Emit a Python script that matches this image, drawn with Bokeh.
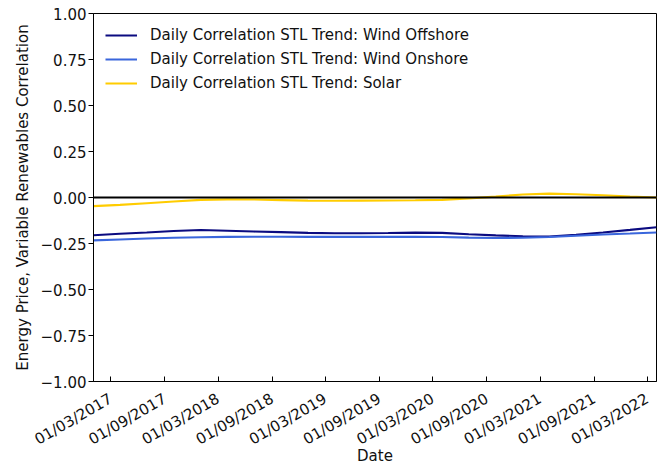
import pandas as pd
from math import pi
from bokeh.plotting import figure
from bokeh.models import Range1d, FixedTicker, Span, Legend, LegendItem
from bokeh.embed import file_html
from bokeh.resources import INLINE

# ---- data ----
dates = ["2017-01-01", "2017-04-01", "2017-07-01", "2017-10-01",
         "2018-01-01", "2018-04-01", "2018-07-01", "2018-10-01",
         "2019-01-01", "2019-04-01", "2019-07-01", "2019-10-01",
         "2020-01-01", "2020-04-01", "2020-07-01", "2020-10-01",
         "2021-01-01", "2021-04-01", "2021-07-01", "2021-10-01",
         "2022-01-01", "2022-04-01"]
wind_offshore = [-0.205, -0.197, -0.190, -0.182, -0.177, -0.181, -0.185, -0.188,
                 -0.192, -0.194, -0.194, -0.193, -0.191, -0.192, -0.200, -0.206,
                 -0.211, -0.212, -0.203, -0.190, -0.176, -0.162]
wind_onshore = [-0.233, -0.228, -0.223, -0.219, -0.216, -0.214, -0.213, -0.213,
                -0.214, -0.214, -0.214, -0.214, -0.214, -0.215, -0.218, -0.220,
                -0.219, -0.215, -0.208, -0.201, -0.196, -0.190]
solar = [-0.047, -0.040, -0.031, -0.022, -0.013, -0.010, -0.011, -0.014,
         -0.017, -0.018, -0.017, -0.016, -0.015, -0.013, -0.005, 0.005,
         0.016, 0.021, 0.018, 0.012, 0.005, 0.000]

series_names = ["Daily Correlation STL Trend: Wind Offshore",
                "Daily Correlation STL Trend: Wind Onshore",
                "Daily Correlation STL Trend: Solar"]
series_colors = ["#0b0b80", "#3a66dc", "#ffcc00"]

x_tick_dates = ["2017-03-01", "2017-09-01", "2018-03-01", "2018-09-01",
                "2019-03-01", "2019-09-01", "2020-03-01", "2020-09-01",
                "2021-03-01", "2021-09-01", "2022-03-01"]
x_tick_labels = ["01/03/2017", "01/09/2017", "01/03/2018", "01/09/2018",
                 "01/03/2019", "01/09/2019", "01/03/2020", "01/09/2020",
                 "01/03/2021", "01/09/2021", "01/03/2022"]
y_ticks = [-1.0, -0.75, -0.5, -0.25, 0.0, 0.25, 0.5, 0.75, 1.0]
y_tick_labels = ["\u22121.00", "\u22120.75", "\u22120.50", "\u22120.25",
                 "0.00", "0.25", "0.50", "0.75", "1.00"]

FONT = "DejaVu Sans"
FS = "15px"

x = pd.to_datetime(dates)
x_start = x[0]
x_end = x[-1]

p = figure(width=659, height=468, output_backend="svg", toolbar_location=None,
           x_axis_type="datetime",
           x_range=Range1d(x_start, x_end), y_range=Range1d(-1.0, 1.0),
           min_border_left=93, min_border_right=3, min_border_top=13,
           min_border_bottom=85)
p.grid.visible = False
p.outline_line_color = "black"
p.outline_line_width = 1
p.background_fill_color = "white"
p.border_fill_color = "white"

renderers = []
for vals, color in zip([wind_offshore, wind_onshore, solar], series_colors):
    r = p.line(x, vals, line_color=color, line_width=2.1)
    renderers.append(r)

p.add_layout(Span(location=0, dimension="width", line_color="black", line_width=2.2))

# x axis
tick_ms = [pd.Timestamp(d).value / 1e6 for d in x_tick_dates]
xa = p.xaxis[0]
xa.ticker = FixedTicker(ticks=tick_ms)
xa.major_label_overrides = {t: l for t, l in zip(tick_ms, x_tick_labels)}
xa.major_label_orientation = pi / 6
xa.minor_tick_line_color = None
xa.major_tick_in = 5
xa.major_tick_out = 0
xa.axis_label = "Date"
xa.axis_label_standoff = -12
xa.major_label_standoff = 16

# y axis
ya = p.yaxis[0]
ya.ticker = FixedTicker(ticks=y_ticks)
ya.major_label_overrides = {t: l for t, l in zip(y_ticks, y_tick_labels)}
ya.minor_tick_line_color = None
ya.major_tick_in = 0
ya.major_tick_out = 5
ya.axis_label = "Energy Price, Variable Renewables Correlation"
ya.axis_label_standoff = 6
ya.major_label_standoff = 2

for ax in [xa, ya]:
    ax.axis_line_color = "black"
    ax.major_tick_line_color = "black"
    ax.major_label_text_font = FONT
    ax.major_label_text_font_size = FS
    ax.major_label_text_color = "#111111"
    ax.axis_label_text_font = FONT
    ax.axis_label_text_font_size = FS
    ax.axis_label_text_font_style = "normal"
    ax.axis_label_text_color = "#111111"

legend = Legend(items=[LegendItem(label=n, renderers=[r]) for n, r in zip(series_names, renderers)],
                location="top_left")
legend.border_line_color = None
legend.background_fill_alpha = 0
legend.label_text_font = FONT
legend.label_text_font_size = FS
legend.label_text_color = "#111111"
legend.glyph_width = 32
legend.glyph_height = 20
legend.label_height = 20
legend.spacing = 4
legend.label_standoff = 13
legend.padding = 10
legend.margin = 12
p.add_layout(legend)

open("out.html", "w").write(file_html(p, INLINE))
